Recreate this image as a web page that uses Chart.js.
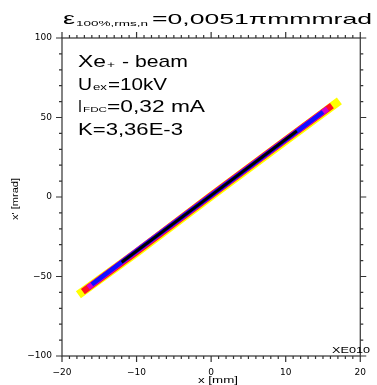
<!DOCTYPE html>
<html>
<head>
<meta charset="utf-8">
<script src="https://cdn.jsdelivr.net/npm/chart.js@4.4.0/dist/chart.umd.min.js"></script>
<style>
  html, body { margin: 0; padding: 0; background: #fff; }
</style>
</head>
<body>
<canvas id="c" width="377" height="385"></canvas>
<script>
// phase space band (x in mm, x' in mrad)
const yellowX = [-17.8, -10, 0, 10, 17.2];
const yellowY = [-61.5, -35, 0.5, 35.5, 60.5];
const redX = [-17.2, -10, 0, 10, 16.2];
const redY = [-59.5, -34.5, 1, 36, 57.5];
const magentaX = [-16.5, -10, 0, 10, 15.6];
const magentaY = [-57, -34, 1, 36, 55.5];
const blueX = [-16, -10, 0, 10, 15];
const blueY = [-55, -34, 1, 36, 53.5];
const blackX = [-12, 0, 11.5];
const blackY = [-41, 1, 41.5];

const xTicks = [-20, -10, 0, 10, 20];
const yTicks = [-100, -50, 0, 50, 100];

const FONT = "'Liberation Sans', Arial, sans-serif";

const pts = (xs, ys) => xs.map((x, i) => ({ x: x, y: ys[i] }));

const band = (xs, ys, color, w) => ({
  data: pts(xs, ys),
  showLine: true,
  borderColor: color,
  borderWidth: w,
  borderCapStyle: "butt",
  pointRadius: 0,
  fill: false,
});

// text stretched to a given width (the original lettering is wide)
function fitText(ctx, str, x, y, w, size) {
  ctx.font = size + "px " + FONT;
  const m = ctx.measureText(str).width;
  ctx.save();
  ctx.translate(x, y);
  ctx.scale(w / m, 1);
  ctx.fillText(str, 0, 0);
  ctx.restore();
}

const framePlugin = {
  id: "frame",
  afterDraw(chart) {
    const ctx = chart.ctx;
    const xs = chart.scales.x, ys = chart.scales.y;
    const a = chart.chartArea;
    ctx.save();
    ctx.strokeStyle = "#333";
    ctx.lineWidth = 1.2;
    ctx.strokeRect(a.left, a.top, a.right - a.left, a.bottom - a.top);
    ctx.beginPath();
    for (let v = -20; v <= 20; v++) {
      const p = xs.getPixelForValue(v);
      const len = v % 10 === 0 ? 6 : 3;
      ctx.moveTo(p, a.bottom); ctx.lineTo(p, a.bottom + len);
      ctx.moveTo(p, a.top); ctx.lineTo(p, a.top - len);
    }
    for (let v = -100; v <= 100; v += 10) {
      const p = ys.getPixelForValue(v);
      const len = v % 50 === 0 ? 6 : 3;
      ctx.moveTo(a.left, p); ctx.lineTo(a.left - len, p);
      ctx.moveTo(a.right, p); ctx.lineTo(a.right + len, p);
    }
    ctx.stroke();

    ctx.fillStyle = "#000";
    ctx.textBaseline = "alphabetic";
    // title
    fitText(ctx, "\u03b5", 63, 24, 12, 16);
    fitText(ctx, "100%,rms,n", 76, 26, 72, 8);
    fitText(ctx, "=0,0051\u03c0mmmrad", 152, 24, 220, 15);
    // beam info
    fitText(ctx, "Xe", 78, 67, 28, 17);
    fitText(ctx, "+", 107, 68, 8, 9);
    fitText(ctx, "- beam", 122, 67, 66, 17);
    fitText(ctx, "U", 78, 90, 14, 17);
    fitText(ctx, "ex", 93, 90, 14, 9);
    fitText(ctx, "=10kV", 108, 90, 59, 17);
    fitText(ctx, "I", 78, 112, 4, 17);
    fitText(ctx, "FDC", 83, 112, 24, 8);
    fitText(ctx, "=0,32 mA", 107, 112, 98, 17);
    fitText(ctx, "K=3,36E-3", 78, 135, 105, 17);
    // run tag and axis titles
    fitText(ctx, "XE010", 332, 353, 38, 9.5);
    fitText(ctx, "x [mm]", 198, 383, 40, 9.5);
    ctx.save();
    ctx.translate(18, 220);
    ctx.rotate(-Math.PI / 2);
    fitText(ctx, "x' [mrad]", 0, 0, 42, 9.5);
    ctx.restore();
    ctx.restore();
  },
};

new Chart(document.getElementById("c"), {
  type: "scatter",
  data: {
    datasets: [
      band(blackX, blackY, "#000000", 3),
      band(blueX, blueY, "#1010ff", 4.5),
      band(magentaX, magentaY, "#d000d0", 5.5),
      band(redX, redY, "#ff1020", 6.5),
      band(yellowX, yellowY, "#ffff00", 8.5),
    ],
  },
  options: {
    responsive: false,
    animation: false,
    layout: { padding: { top: 38, right: 4, left: 0, bottom: 0 } },
    plugins: {
      legend: { display: false },
      tooltip: { enabled: false },
    },
    scales: {
      x: {
        type: "linear",
        min: -20,
        max: 20,
        afterBuildTicks: (s) => { s.ticks = xTicks.map((v) => ({ value: v })); },
        afterFit: (s) => { s.height = 29; },
        grid: { display: false, drawTicks: false },
        border: { display: false },
        ticks: {
          padding: 11,
          color: "#000",
          font: { family: "'DejaVu Sans'", size: 9 },
          maxRotation: 0,
          callback: (v) => String(v).replace("-", "\u2212"),
        },
      },
      y: {
        type: "linear",
        min: -100,
        max: 100,
        afterBuildTicks: (s) => { s.ticks = yTicks.map((v) => ({ value: v })); },
        afterFit: (s) => { s.width = 62; },
        grid: { display: false, drawTicks: false },
        border: { display: false },
        ticks: {
          padding: 10,
          color: "#000",
          font: { family: "'DejaVu Sans'", size: 9 },
          callback: (v) => String(v).replace("-", "\u2212"),
        },
      },
    },
  },
  plugins: [framePlugin],
});
</script>
</body>
</html>
